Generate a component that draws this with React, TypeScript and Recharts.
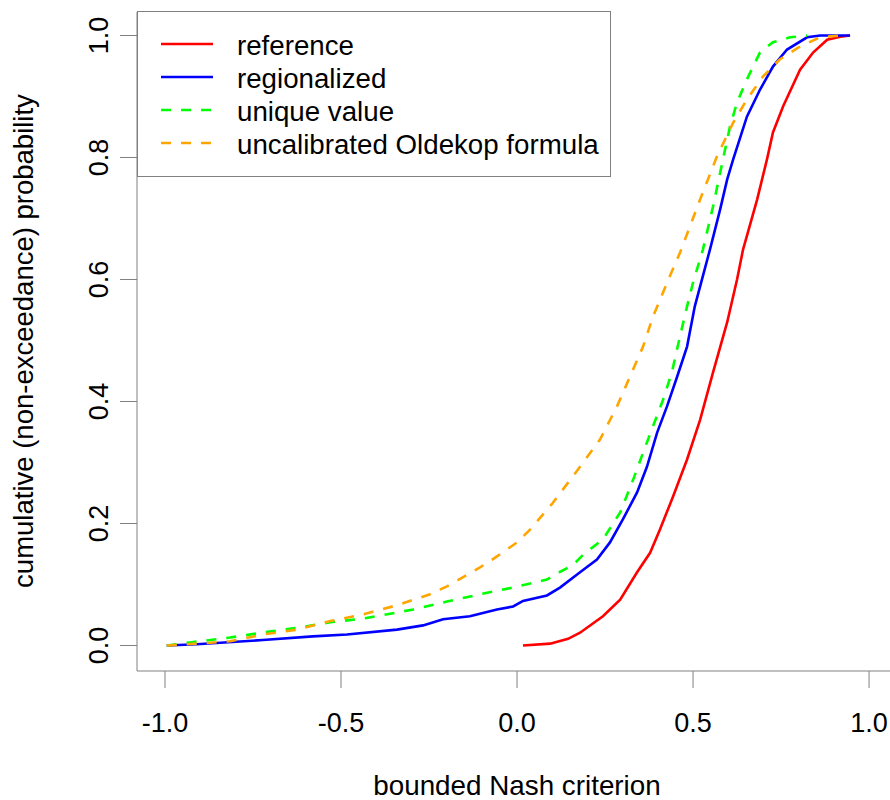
import React from 'react';
import { LineChart, Line, XAxis, YAxis } from 'recharts';

const refX = [0.017, 0.094, 0.145, 0.179, 0.244, 0.293, 0.341, 0.378, 0.406, 0.443, 0.483, 0.52, 0.557, 0.597, 0.625, 0.642, 0.682, 0.71, 0.727, 0.756, 0.804, 0.841, 0.881, 0.918, 0.946];
const refY = [0, 0.003, 0.011, 0.021, 0.048, 0.075, 0.12, 0.152, 0.19, 0.244, 0.305, 0.37, 0.448, 0.53, 0.6, 0.649, 0.731, 0.797, 0.841, 0.884, 0.944, 0.972, 0.993, 0.998, 1.0];

const regX = [-0.995, -0.91, -0.722, -0.58, -0.483, -0.341, -0.267, -0.21, -0.134, -0.057, -0.011, 0.017, 0.085, 0.122, 0.179, 0.227, 0.264, 0.301, 0.341, 0.369, 0.398, 0.426, 0.455, 0.483, 0.505, 0.548, 0.577, 0.597, 0.614, 0.653, 0.69, 0.727, 0.767, 0.824, 0.861, 0.946];
const regY = [0, 0.002, 0.009, 0.015, 0.018, 0.026, 0.033, 0.043, 0.048, 0.059, 0.064, 0.073, 0.082, 0.095, 0.12, 0.141, 0.169, 0.207, 0.251, 0.293, 0.349, 0.392, 0.441, 0.49, 0.556, 0.649, 0.715, 0.764, 0.797, 0.867, 0.911, 0.949, 0.977, 0.997, 1.0, 1.0];

const uniX = [-0.995, -0.929, -0.815, -0.702, -0.625, -0.531, -0.438, -0.295, -0.199, -0.105, -0.011, 0.085, 0.11, 0.159, 0.19, 0.244, 0.293, 0.33, 0.358, 0.386, 0.415, 0.44, 0.463, 0.483, 0.5, 0.528, 0.557, 0.585, 0.605, 0.625, 0.653, 0.69, 0.727, 0.776, 0.824];
const uniY = [0, 0.005, 0.013, 0.023, 0.029, 0.038, 0.044, 0.059, 0.072, 0.084, 0.095, 0.108, 0.117, 0.132, 0.15, 0.174, 0.218, 0.272, 0.316, 0.359, 0.403, 0.448, 0.507, 0.556, 0.595, 0.649, 0.72, 0.797, 0.851, 0.89, 0.928, 0.972, 0.989, 0.997, 1.0];

const oldX = [-0.995, -0.91, -0.815, -0.722, -0.625, -0.531, -0.438, -0.341, -0.247, -0.199, -0.105, -0.057, 0.0, 0.037, 0.102, 0.179, 0.236, 0.284, 0.321, 0.358, 0.386, 0.412, 0.43, 0.463, 0.52, 0.568, 0.614, 0.653, 0.699, 0.747, 0.804, 0.861, 0.918];
const oldY = [0, 0.003, 0.007, 0.018, 0.026, 0.04, 0.051, 0.066, 0.084, 0.097, 0.128, 0.146, 0.169, 0.19, 0.234, 0.293, 0.338, 0.392, 0.441, 0.49, 0.539, 0.575, 0.6, 0.644, 0.731, 0.802, 0.857, 0.895, 0.933, 0.961, 0.982, 0.997, 1.0];

const xTicks = [-1, -0.5, 0, 0.5, 1];
const yTicks = [0, 0.2, 0.4, 0.6, 0.8, 1.0];

const seriesNames = ['reference', 'regionalized', 'unique value', 'uncalibrated Oldekop formula'];
const seriesColors = ['#FF0000', '#0000FF', '#00FF00', '#FFA500'];
const seriesDash = [undefined, undefined, '10 10', '10 10'];

const toPoints = (xs: number[], ys: number[]) => xs.map((x, i) => ({ x, y: ys[i] }));
const seriesData = [toPoints(refX, refY), toPoints(regX, regY), toPoints(uniX, uniY), toPoints(oldX, oldY)];

const FONT = '"Liberation Sans", Arial, sans-serif';
const AXIS = '#808080';

const XTick = (props: any) => (
  <text x={props.x} y={732} textAnchor="middle" fontSize={27} fontFamily={FONT} fill="#000">
    {props.payload.value.toFixed(1)}
  </text>
);

const YTick = (props: any) => (
  <text x={108} y={props.y} transform={`rotate(-90 108 ${props.y})`} textAnchor="middle" fontSize={27} fontFamily={FONT} fill="#000">
    {props.payload.value.toFixed(1)}
  </text>
);

// legend drawn on top of the plot, top-left corner like R's legend("topleft")
const LegendBox = () => (
  <svg width={474} height={166} style={{ position: 'absolute', left: 137, top: 11, display: 'block' }}>
    <rect x={0.5} y={0.5} width={473} height={165} fill="#fff" stroke={AXIS} />
    {seriesNames.map((name, i) => {
      const cy = 33 + i * 33;
      return (
        <g key={name}>
          <line x1={24} x2={76} y1={cy} y2={cy} stroke={seriesColors[i]} strokeWidth={2.5} strokeDasharray={seriesDash[i]} />
          <text x={100} y={cy + 11} fontSize={27.7} fontFamily={FONT} fill="#000">{name}</text>
        </g>
      );
    })}
  </svg>
);

const App: React.FC = () => {
  return (
    <div style={{ position: 'absolute', left: 0, top: 0, width: 890, height: 800, background: '#fff' }}>
      <LineChart width={890} height={800} margin={{ top: 12, right: -3, bottom: 0, left: 0 }}>
        <XAxis
          type="number"
          dataKey="x"
          domain={[-1.0795, 1.068]}
          ticks={xTicks}
          allowDataOverflow
          height={129}
          tickSize={17}
          stroke={AXIS}
          tick={<XTick />}
          label={{ content: () => <text x={517} y={795} textAnchor="middle" fontSize={27.8} fontFamily={FONT} fill="#000">bounded Nash criterion</text> }}
        />
        <XAxis xAxisId="top" type="number" orientation="top" domain={[-1.0795, 1.068]} height={0} tick={false} tickLine={false} stroke={AXIS} />
        <YAxis
          type="number"
          domain={[-0.0418, 1.0385]}
          ticks={yTicks}
          allowDataOverflow
          width={137}
          tickSize={17}
          stroke={AXIS}
          tick={<YTick />}
          label={{ content: () => <text x={33} y={341} transform="rotate(-90 33 341)" textAnchor="middle" fontSize={27.5} fontFamily={FONT} fill="#000">cumulative (non-exceedance) probability</text> }}
        />
        {seriesData.map((d, i) => (
          <Line
            key={seriesNames[i]}
            data={d}
            dataKey="y"
            name={seriesNames[i]}
            type="linear"
            stroke={seriesColors[i]}
            strokeWidth={2.6}
            strokeDasharray={seriesDash[i]}
            dot={false}
            isAnimationActive={false}
          />
        ))}
      </LineChart>
      <LegendBox />
    </div>
  );
};

export default App;
